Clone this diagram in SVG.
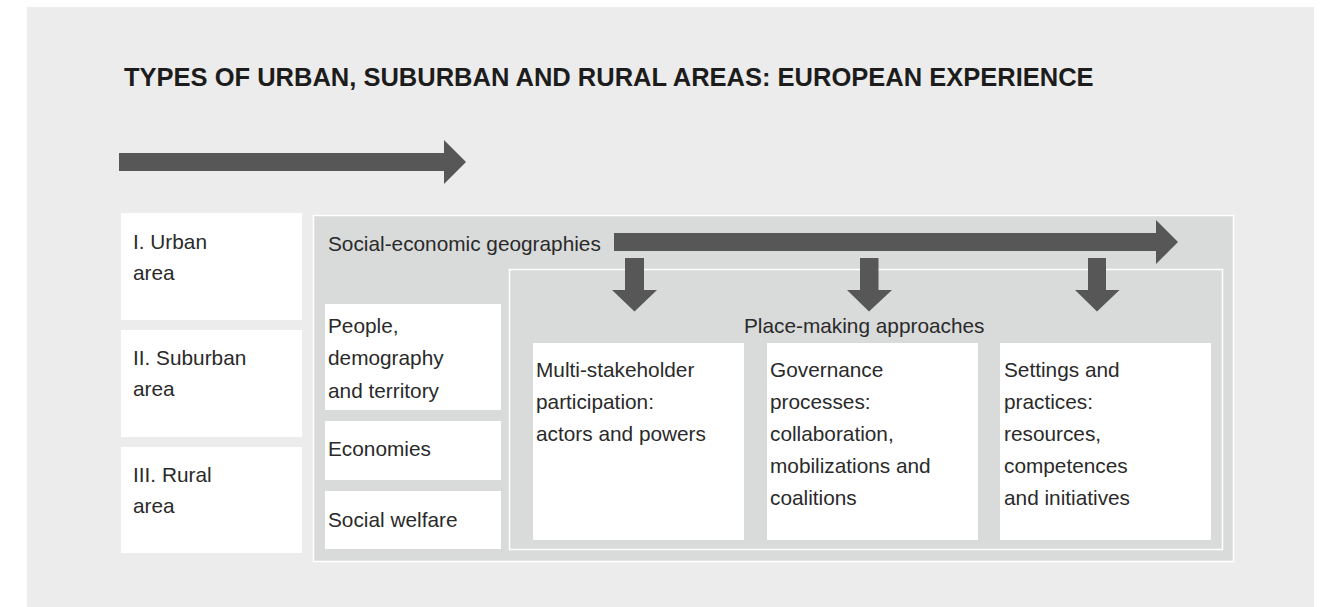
<svg xmlns="http://www.w3.org/2000/svg" width="1325" height="607" viewBox="0 0 1325 607">
<style>
.t{font-family:"Liberation Sans",Arial,sans-serif;font-size:20.8px;fill:#2a2a2a}
.title{font-family:"Liberation Sans",Arial,sans-serif;font-size:25.5px;font-weight:bold;fill:#1c1c1c}
.wb{fill:#ffffff}
.panel{fill:#d9dada;stroke:#ffffff;stroke-width:1.5}
.arr{fill:#575757}
</style>
<rect x="0" y="0" width="1325" height="607" fill="#ffffff"/>
<rect x="27" y="7" width="1287" height="600" fill="#ececec"/>
<text class="title" x="124" y="86">TYPES OF URBAN, SUBURBAN AND RURAL AREAS: EUROPEAN EXPERIENCE</text>

<g id="panel-outer"><rect class="panel" x="313.5" y="215.5" width="920" height="346"/>
<text class="t" x="328" y="251">Social-economic geographies</text></g>
<g id="panel-inner"><rect class="panel" x="509.5" y="269.5" width="713" height="280"/>
<text class="t" x="744" y="333">Place-making approaches</text></g>

<g id="urban"><rect class="wb" x="121" y="213" width="181" height="107"/>
<text class="t" x="133" y="249">I. Urban</text><text class="t" x="133" y="280">area</text></g>
<g id="suburban"><rect class="wb" x="121" y="330" width="181" height="107"/>
<text class="t" x="133" y="365">II. Suburban</text><text class="t" x="133" y="396">area</text></g>
<g id="rural"><rect class="wb" x="121" y="447" width="181" height="106"/>
<text class="t" x="133" y="482">III. Rural</text><text class="t" x="133" y="513">area</text></g>

<g id="people"><rect class="wb" x="325" y="304" width="176" height="106"/>
<text class="t" x="328" y="333">People,</text><text class="t" x="328" y="365">demography</text><text class="t" x="328" y="398">and territory</text></g>
<g id="economies"><rect class="wb" x="325" y="421" width="176" height="59"/>
<text class="t" x="328" y="456">Economies</text></g>
<g id="welfare"><rect class="wb" x="325" y="491" width="176" height="58"/>
<text class="t" x="328" y="527">Social welfare</text></g>

<g id="multi"><rect class="wb" x="533" y="343" width="211" height="197"/>
<text class="t" x="536" y="377">Multi-stakeholder</text><text class="t" x="536" y="409">participation:</text><text class="t" x="536" y="441">actors and powers</text></g>
<g id="governance"><rect class="wb" x="767" y="343" width="211" height="197"/>
<text class="t" x="770" y="377">Governance</text><text class="t" x="770" y="409">processes:</text><text class="t" x="770" y="441">collaboration,</text><text class="t" x="770" y="473">mobilizations and</text><text class="t" x="770" y="505">coalitions</text></g>
<g id="settings"><rect class="wb" x="1000" y="343" width="211" height="197"/>
<text class="t" x="1004" y="377">Settings and</text><text class="t" x="1004" y="409">practices:</text><text class="t" x="1004" y="441">resources,</text><text class="t" x="1004" y="473">competences</text><text class="t" x="1004" y="505">and initiatives</text></g>

<g id="connectors">
<polygon class="arr" points="119,153 444,153 444,140 466,162 444,184 444,171 119,171"/>
<polygon class="arr" points="614,233 1156,233 1156,220 1178,242 1156,264 1156,251 614,251"/>
<polygon class="arr" points="625,258 644,258 644,290 657,290 634.5,311.5 612,290 625,290"/>
<polygon class="arr" points="860,258 878.5,258 878.5,290 892,290 869,311.5 847,290 860,290"/>
<polygon class="arr" points="1088,258 1106,258 1106,290 1119.5,290 1097,311.5 1075,290 1088,290"/>
</g>
</svg>
